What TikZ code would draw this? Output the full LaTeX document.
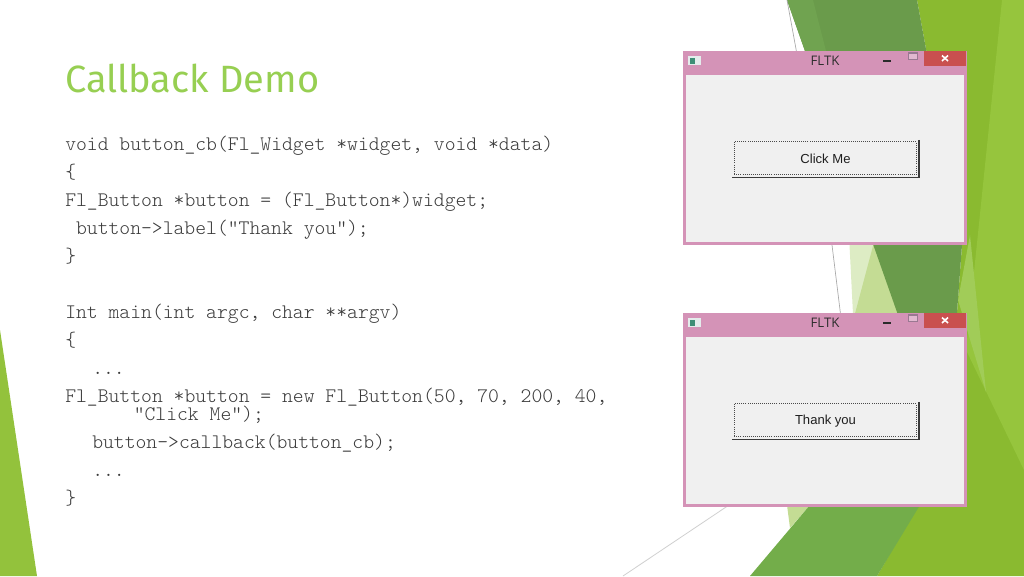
\documentclass[tikz,border=0pt]{standalone}
\usepackage{fontspec}
\setmainfont{Liberation Sans}
\setmonofont{lmmonolt10-regular.otf}
\newfontfamily\titlefont{Fira Sans}
\newfontfamily\uifont{Open Sans}
\newfontfamily\btnfont{Liberation Sans}
\definecolor{titlegreen}{HTML}{97CF52}
\definecolor{codegray}{HTML}{3A3A3A}
\definecolor{leftgreen}{HTML}{93C23C}
\definecolor{brightgreen}{HTML}{8ABA30}
\definecolor{lightergreen}{HTML}{96C53D}
\definecolor{patchgreen}{HTML}{A1CC58}
\definecolor{darkgreen}{HTML}{6A9B4B}
\definecolor{darkstrip}{HTML}{70A350}
\definecolor{medgreen}{HTML}{73AD4A}
\definecolor{palegreen}{HTML}{DDECC4}
\definecolor{midpale}{HTML}{C4DC94}
\definecolor{thinline}{HTML}{A8A8A8}
\definecolor{thinline2}{HTML}{D0D0D0}
\definecolor{winpink}{HTML}{D493B7}
\definecolor{clientgray}{HTML}{F0F0F0}
\definecolor{closered}{HTML}{C9504F}
\definecolor{maxgray}{HTML}{9A7892}
\definecolor{maxfill}{HTML}{E2B8D0}
\definecolor{mingray}{HTML}{2B2B2B}
\definecolor{iconbg}{HTML}{E4ECEC}
\definecolor{icongreen}{HTML}{3E8E76}
\definecolor{btnshadow}{HTML}{3A3A3A}
\definecolor{focusgray}{HTML}{4A4A4A}
\newcommand{\codefont}{\ttfamily\fontsize{15.49}{18}\selectfont}
\tikzset{
  code/.style={anchor=base west, inner sep=0pt, font=\codefont, text=codegray, text height=8pt, text depth=2.5pt},
  titletext/.style={anchor=base west, inner sep=0pt, font=\titlefont\fontsize{28.5}{34}\selectfont, text=titlegreen},
  wintitle/.style={inner sep=0pt, font=\uifont\fontsize{9.9}{11}\selectfont, text=black!82},
  btnface/.style={inner sep=0pt, minimum width=139.8pt, minimum height=28pt, fill=clientgray, font=\btnfont\fontsize{9.8}{11}\selectfont, text=black!88},
  btnline/.style={draw=btnshadow, line width=1.1pt},
  btnfocus/.style={draw=focusgray, line width=0.55pt, densely dotted},
}
\newcommand{\fltkwin}[3]{%
  \begin{scope}[shift={(0,#1)}]
    \fill[winpink] (683,51) rectangle (967,245);
    \fill[clientgray] (686,75) rectangle (964,242);
    \fill[closered] (924,51) rectangle (966,66);
    \draw[white, line width=1.2pt] (942,55.5) -- (948,61) (948,55.5) -- (942,61);
    \draw[maxgray, line width=0.6pt, fill=maxfill] (908,52.8) rectangle (917,59);
    \draw[maxgray, line width=1.1pt] (908,53.4) -- (917,53.4);
    \fill[mingray] (883,59.5) rectangle (891,62);
    \fill[iconbg] (688,56) rectangle (701,65.3);
    \fill[icongreen] (689.5,57.5) rectangle (694.5,64);
    \node[wintitle] (#2t) at (825,61) {FLTK};
    \node[btnface] (#2b) at (825.5,158.7) {#3};
    \draw[btnline] (#2b.north east) -- (#2b.south east) -- (#2b.south west);
    \draw[btnfocus] ([shift={(2,2)}]#2b.north west) rectangle ([shift={(-3,-3)}]#2b.south east);
  \end{scope}}
\begin{document}
\begin{tikzpicture}[x=0.75pt, y=-0.75pt]
\useasboundingbox (0,0) rectangle (1024,576);
\fill[white] (0,0) rectangle (1024,576);
% left facet
\fill[leftgreen] (0,330) -- (37,576) -- (0,576) -- cycle;
% right facets
\fill[brightgreen] (917,0) -- (1024,0) -- (1024,576) -- (877,576) -- (917,507) -- (955,400) -- (957,313) -- (962,245) -- cycle;
\fill[lightergreen] (1002,0) -- (1024,0) -- (1024,470) -- (966,350) -- cycle;
\fill[patchgreen] (970,235) -- (958,300) -- (986,392) -- cycle;
\fill[palegreen] (849,235) -- (900,235) -- (900,320) -- (853.3,320) -- cycle;
\fill[midpale] (875.9,235) -- (900,235) -- (900,320) -- (853.3,320) -- cycle;
\fill[darkgreen] (787,0) -- (917,0) -- (962,245) -- (957,313) -- (945,400) -- (935,420) -- cycle;
\fill[darkstrip] (787,0) -- (813,0) -- (826,51) -- (805,51) -- cycle;
\fill[midpale] (787,505) -- (810,505) -- (790,528) -- cycle;
\fill[medgreen] (810,505) -- (920,505) -- (877,576) -- (750,576) -- cycle;
\draw[thinline, line width=0.5pt] (787,0) -- (832,245) -- (841,318);
\draw[thinline2, line width=0.6pt] (623,576) -- (735,501);
% windows
\fltkwin{0}{wa}{Click Me}
\fltkwin{262}{wb}{Thank you}
% title
\node[titletext] (title) at (65,92) {Callback Demo};
% code
\node[code] (c1) at (65,150.5) {void button\_cb(Fl\_Widget *widget, void *data)};
\node[code] (c2) at (65,178.5) {\{};
\node[code] (c3) at (65,206.5) {Fl\_Button *button = (Fl\_Button*)widget;};
\node[code] (c4) at (75.8,234.5) {button->label("Thank you");};
\node[code] (c5) at (65,262.5) {\}};
\node[code] (c6) at (65,318.5) {Int main(int argc, char **argv)};
\node[code] (c7) at (65,346.5) {\{};
\node[code] (c8) at (92,374.5) {...};
\node[code] (c9) at (65,402.5) {Fl\_Button *button = new Fl\_Button(50, 70, 200, 40,};
\node[code] (c10) at (133.5,420.5) {"Click Me");};
\node[code] (c11) at (92,448.5) {button->callback(button\_cb);};
\node[code] (c12) at (92,476.5) {...};
\node[code] (c13) at (65,504.5) {\}};
\end{tikzpicture}
\end{document}
